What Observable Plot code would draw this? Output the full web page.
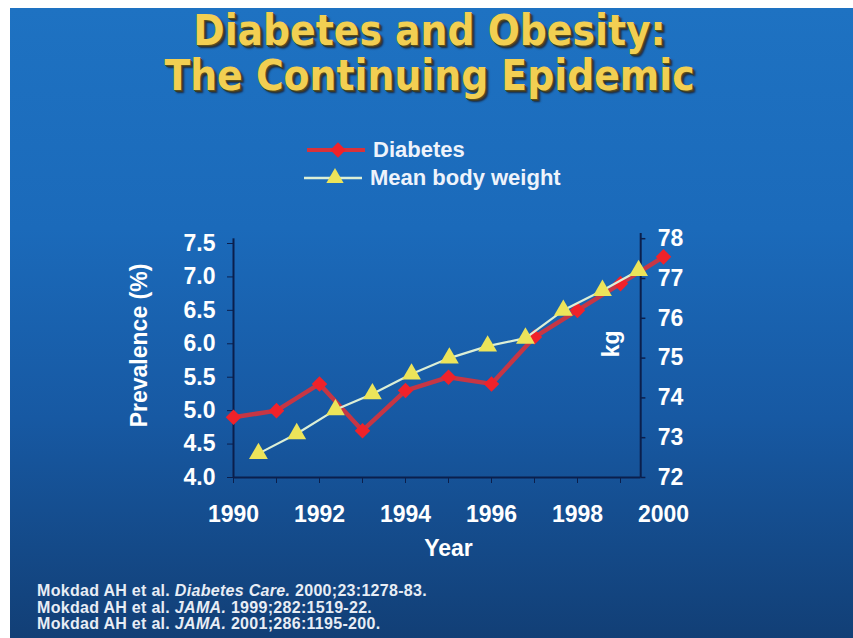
<!DOCTYPE html>
<html>
<head>
<meta charset="utf-8">
<script src="https://cdn.jsdelivr.net/npm/d3@7"></script>
<script src="https://cdn.jsdelivr.net/npm/@observablehq/plot@0.6"></script>
<style>
  html, body { margin: 0; padding: 0; background: #ffffff; width: 853px; height: 638px; overflow: hidden; }
  #bg { position: absolute; left: 10px; top: 8px; width: 843px; height: 630px;
        background: linear-gradient(to bottom, #1e72c2 0%, #1b6aba 35%, #1759a3 65%, #123f76 100%); }
  #title { position: absolute; left: 8px; top: 8px; width: 843px; text-align: center;
           font-family: "DejaVu Sans Condensed", "DejaVu Sans", sans-serif; font-stretch: condensed;
           font-weight: bold; font-size: 42px;
           line-height: 45px; color: #f2cf52; padding-top: 0px;
           text-shadow: 1px 1px 0 #5a5020, 2px 2px 0 #3a3a28, 3px 3px 2px #1a2a40; }
  .leg { position: absolute; font-family: "Liberation Sans", Arial, sans-serif; font-weight: bold;
         font-size: 22px; color: #eef3fb; display: flex; align-items: center; height: 26px; }
  .leg svg { margin-right: 6px; }
  #chart { position: absolute; left: 0; top: 215px; }
  #notes { position: absolute; left: 37px; top: 583px; font-family: "Liberation Sans", Arial, sans-serif;
           font-weight: bold; font-size: 16px; letter-spacing: 0.3px; line-height: 16.5px; color: #e8edf5; }
</style>
</head>
<body>
<div id="bg"></div>
<div id="title">Diabetes and Obesity:<br>The Continuing Epidemic</div>
<div class="leg" id="leg1" style="left:305px; top:137px;"></div>
<div class="leg" id="leg2" style="left:302px; top:165px;"></div>
<div id="chart"></div>
<div id="notes">
  Mokdad AH et al. <i>Diabetes Care.</i> 2000;23:1278-83.<br>
  Mokdad AH et al. <i>JAMA.</i> 1999;282:1519-22.<br>
  Mokdad AH et al. <i>JAMA.</i> 2001;286:1195-200.
</div>
<script>
// ---- data ----
const diabetesYears = [1990, 1991, 1992, 1993, 1994, 1995, 1996, 1997, 1998, 1999, 2000];
const diabetesPrevalence = [4.9, 5.0, 5.4, 4.7, 5.3, 5.5, 5.4, 6.1, 6.5, 6.9, 7.3];
const weightPositions = [1990.58, 1991.47, 1992.37, 1993.23, 1994.14, 1995.02, 1995.91, 1996.79, 1997.67, 1998.58, 1999.42];
const weightKg = [72.6, 73.1, 73.7, 74.1, 74.6, 75.0, 75.3, 75.5, 76.2, 76.7, 77.2];
const prevalenceTicks = [4.0, 4.5, 5.0, 5.5, 6.0, 6.5, 7.0, 7.5];
const kgTicks = [72, 73, 74, 75, 76, 77, 78];
const yearTickMarks = [1990, 1991, 1992, 1993, 1994, 1995, 1996, 1997, 1998, 1999];
const yearLabels = [1990, 1992, 1994, 1996, 1998, 2000];

// ---- styling constants ----
const NAVY = "#0b1f4c";
const RED_LINE = "#d9323a";
const RED_DOT = "#f0222a";
const WHITE_LINE = "#dcefd6";
const YELLOW = "#ece45a";
const RIGHT_AXIS_X = 1999.47;

// kg -> prevalence-scale mapping (right axis shares the left scale)
const kgToY = kg => 4 + (kg - 72) * 0.5953;

const diabetes = diabetesYears.map((year, i) => ({year, value: diabetesPrevalence[i]}));
const weight = weightPositions.map((pos, i) => ({pos, kg: weightKg[i]}));

const chart = Plot.plot({
  width: 853,
  height: 345,
  marginTop: 28,
  marginBottom: 83,
  marginLeft: 233,
  marginRight: 190,
  style: {background: "transparent", fontFamily: "'Liberation Sans', Arial, sans-serif",
          fontSize: "23px", fontWeight: "bold", color: "white", overflow: "visible"},
  x: {domain: [1990, 2000]},
  y: {domain: [4, 7.5]},
  marks: [
    // axis lines
    Plot.ruleX([1990], {y1: 4, y2: 7.57, stroke: NAVY, strokeWidth: 2}),
    Plot.ruleX([RIGHT_AXIS_X], {y1: 4, y2: 7.65, stroke: NAVY, strokeWidth: 2}),
    Plot.ruleY([4], {x1: 1990, x2: RIGHT_AXIS_X, stroke: NAVY, strokeWidth: 2}),
    // left axis
    Plot.axisY({ticks: prevalenceTicks, tickFormat: d3.format(".1f"), tickSize: 6, tickPadding: 12,
                stroke: NAVY, fill: "white", label: null}),
    Plot.text(["Prevalence (%)"], {frameAnchor: "left", textAnchor: "middle", text: d => d,
                                   dx: -94, dy: -15, rotate: -90, fill: "white"}),
    // bottom axis
    Plot.axisX({ticks: yearTickMarks, tickSize: 6, text: null, stroke: NAVY, label: null}),
    Plot.axisX({ticks: yearLabels, tickSize: 0, tickPadding: 28, tickFormat: d => String(d),
                fill: "white", label: "Year", labelAnchor: "center", labelOffset: 78, labelArrow: "none"}),
    // right axis
    Plot.ruleY(kgTicks, {y: kgToY, x1: RIGHT_AXIS_X, x2: RIGHT_AXIS_X + 0.12, stroke: NAVY, strokeWidth: 1.5}),
    Plot.text(kgTicks, {x: () => RIGHT_AXIS_X, y: kgToY, text: d => String(d), dx: 17,
                        textAnchor: "start", fill: "white"}),
    Plot.text(["kg"], {x: () => RIGHT_AXIS_X, y: () => 6.0, text: d => d, dx: -29, rotate: -90, fill: "white"}),
    // series
    Plot.line(diabetes, {x: "year", y: "value", stroke: RED_LINE, strokeWidth: 4.5, strokeOpacity: 0.9}),
    Plot.dot(diabetes, {x: "year", y: "value", symbol: "diamond2", r: 7, fill: RED_DOT}),
    Plot.line(weight, {x: "pos", y: d => kgToY(d.kg), stroke: WHITE_LINE, strokeWidth: 2.2}),
    Plot.dot(weight, {x: "pos", y: d => kgToY(d.kg), symbol: "triangle", r: 7, fill: YELLOW})
  ]
});
document.getElementById("chart").appendChild(chart);

// legend swatches
function swatch(lineColor, lineWidth, symbol, fill, size) {
  const w = 62, h = 26;
  const sym = d3.symbol(symbol === "diamond" ? d3.symbolDiamond2 : d3.symbolTriangle, size)();
  return `<svg width="${w}" height="${h}"><line x1="2" x2="${w - 2}" y1="${h / 2}" y2="${h / 2}" stroke="${lineColor}" stroke-width="${lineWidth}"/>` +
         `<path d="${sym}" transform="translate(${w / 2 + 2},${h / 2})" fill="${fill}"/></svg>`;
}
document.getElementById("leg1").innerHTML = swatch(RED_LINE, 4, "diamond", RED_DOT, 150) + "Diabetes";
document.getElementById("leg2").innerHTML = swatch(WHITE_LINE, 2.5, "triangle", YELLOW, 130) + "Mean body weight";
</script>
</body>
</html>
